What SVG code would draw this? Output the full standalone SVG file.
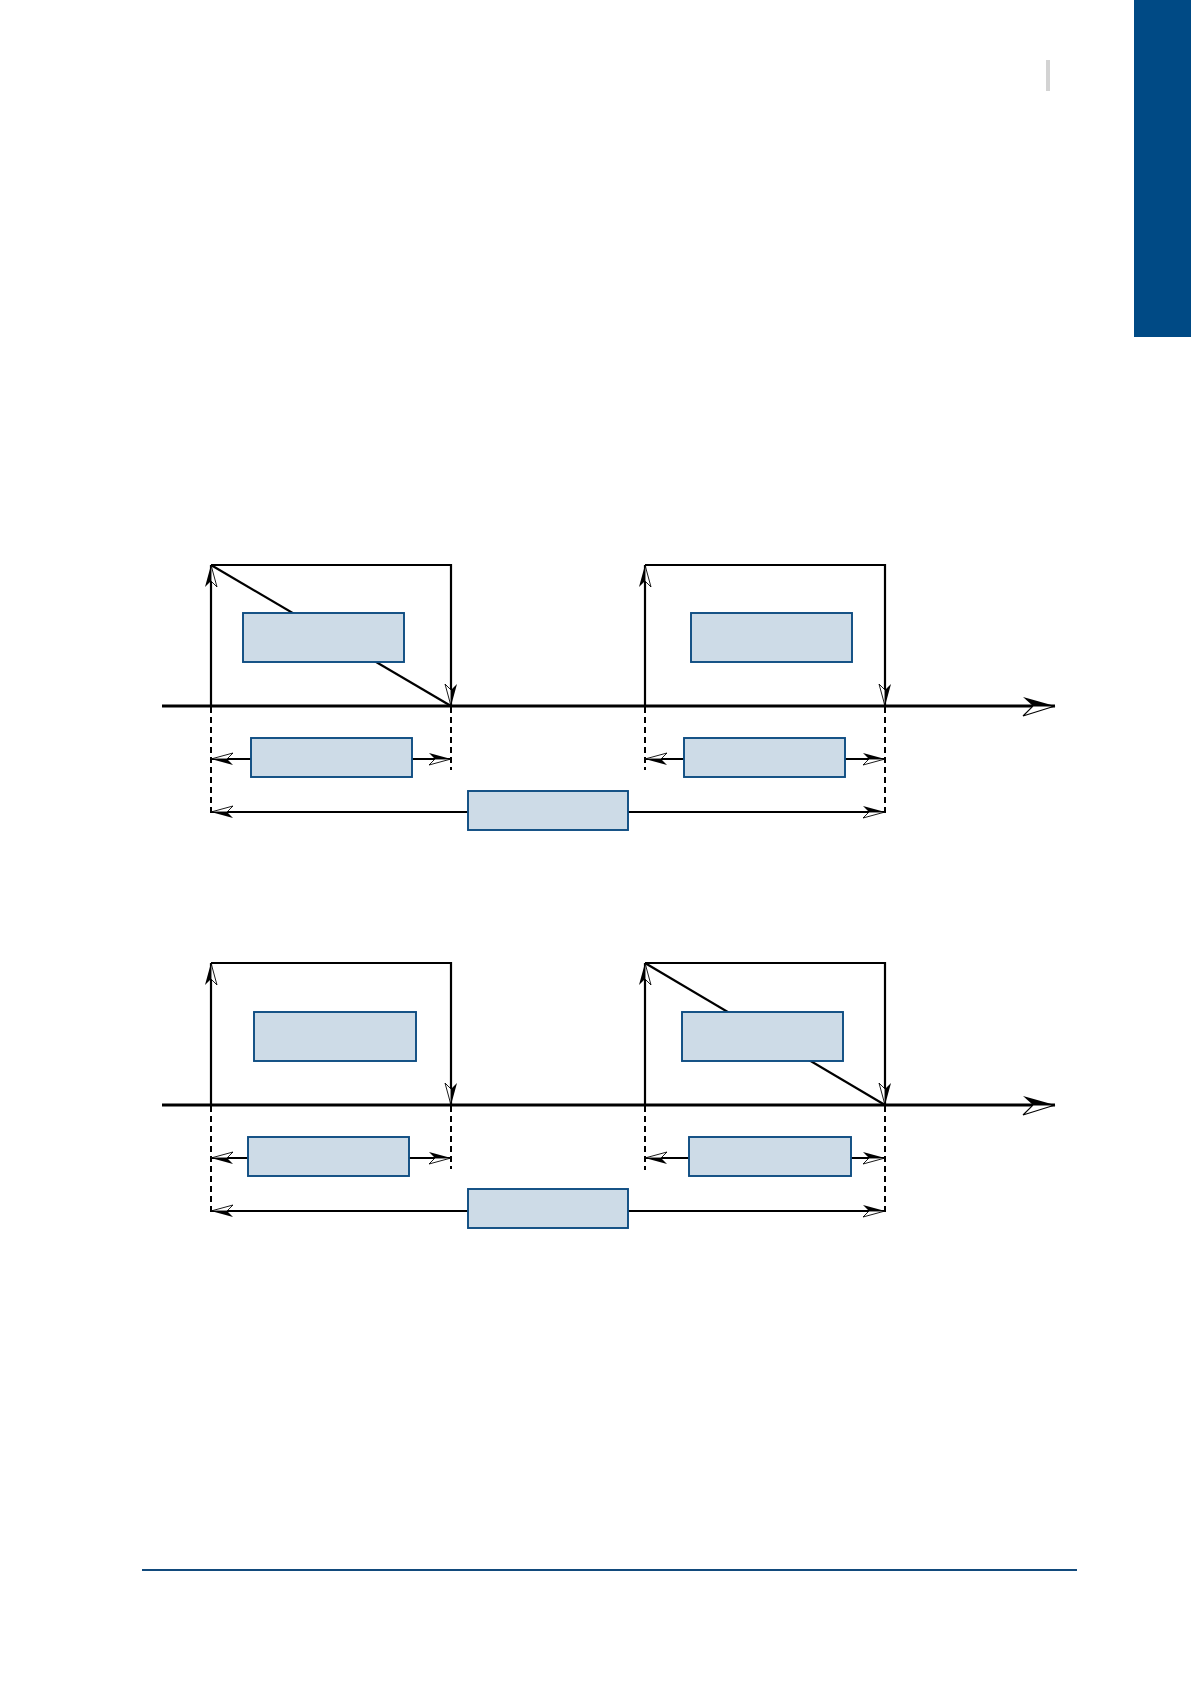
<svg xmlns="http://www.w3.org/2000/svg" width="1191" height="1684" viewBox="0 0 1191 1684">
<style>
.frame{fill:none;stroke:#000;stroke-width:2.2}
.axis{fill:none;stroke:#000;stroke-width:3.2}
.dash{fill:none;stroke:#000;stroke-width:2;stroke-dasharray:6,4}
.dim{fill:none;stroke:#000;stroke-width:1.9}
.box{fill:#cddbe7;stroke:#0d4c82;stroke-width:1.9}
</style>
<defs>
<marker id="ah" markerUnits="userSpaceOnUse" orient="auto-start-reverse" overflow="visible" refX="0" refY="0" markerWidth="1" markerHeight="1">
<path d="M0,0 L-22,-6 L-16,0 Z" fill="#000"/>
<path d="M0,0 L-16,0 L-22,6 Z" fill="#fff" stroke="#000" stroke-width="0.9"/>
</marker>
<marker id="big" markerUnits="userSpaceOnUse" orient="auto" overflow="visible" refX="0" refY="0" markerWidth="1" markerHeight="1">
<path d="M0,0 L-32,-9 L-22,0 Z" fill="#000"/>
<path d="M0,0 L-22,0 L-32,10 Z" fill="#fff" stroke="#000" stroke-width="1.1"/>
</marker>
</defs>
<rect x="1134" y="0" width="57" height="337" fill="#004a85"/>
<rect x="1046" y="60" width="4" height="31" fill="#d3d3d3"/>
<line x1="142" y1="1570" x2="1077" y2="1570" stroke="#124a7c" stroke-width="2"/>
<g id="connectors">
<line class="frame" x1="211" y1="565" x2="451" y2="706"/>
<line class="frame" x1="645" y1="963" x2="885" y2="1105"/>
<path class="frame" d="M211,706 V565" marker-end="url(#ah)"/>
<path class="frame" d="M211,565 H451 V706" marker-end="url(#ah)"/>
<path class="frame" d="M645,706 V565" marker-end="url(#ah)"/>
<path class="frame" d="M645,565 H885 V706" marker-end="url(#ah)"/>
<path class="axis" d="M162,706 H1055" marker-end="url(#big)"/>
<path class="dash" d="M211,707 V817 M451,707 V770 M645,707 V770 M885,707 V817"/>
<path class="dim" d="M211,759 H451" marker-start="url(#ah)" marker-end="url(#ah)"/>
<path class="dim" d="M645,759 H885" marker-start="url(#ah)" marker-end="url(#ah)"/>
<path class="dim" d="M211,812 H885" marker-start="url(#ah)" marker-end="url(#ah)"/>
<path class="frame" d="M211,1105 V963" marker-end="url(#ah)"/>
<path class="frame" d="M211,963 H451 V1105" marker-end="url(#ah)"/>
<path class="frame" d="M645,1105 V963" marker-end="url(#ah)"/>
<path class="frame" d="M645,963 H885 V1105" marker-end="url(#ah)"/>
<path class="axis" d="M162,1105 H1055" marker-end="url(#big)"/>
<path class="dash" d="M211,1106 V1214 M451,1106 V1169 M645,1106 V1170 M885,1106 V1215"/>
<path class="dim" d="M211,1158 H451" marker-start="url(#ah)" marker-end="url(#ah)"/>
<path class="dim" d="M645,1158 H885" marker-start="url(#ah)" marker-end="url(#ah)"/>
<path class="dim" d="M211,1211 H885" marker-start="url(#ah)" marker-end="url(#ah)"/>
</g>
<g id="nA1"><rect class="box" x="243" y="613" width="161" height="49"/></g>
<g id="nA2"><rect class="box" x="691" y="613" width="161" height="49"/></g>
<g id="nB1"><rect class="box" x="251" y="738" width="161" height="39"/></g>
<g id="nB2"><rect class="box" x="684" y="738" width="161" height="39"/></g>
<g id="nC"><rect class="box" x="468" y="791" width="160" height="39"/></g>
<g id="nD1"><rect class="box" x="254" y="1012" width="162" height="49"/></g>
<g id="nD2"><rect class="box" x="682" y="1012" width="161" height="49"/></g>
<g id="nE1"><rect class="box" x="248" y="1137" width="161" height="39"/></g>
<g id="nE2"><rect class="box" x="689" y="1137" width="162" height="39"/></g>
<g id="nF"><rect class="box" x="468" y="1189" width="160" height="39"/></g>
</svg>
